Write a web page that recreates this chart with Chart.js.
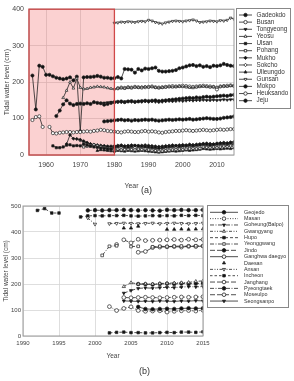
<!DOCTYPE html>
<html>
<head>
<meta charset="utf-8">
<script src="https://cdn.jsdelivr.net/npm/chart.js@4.4.1/dist/chart.umd.min.js"></script>
<style>
  body { margin: 0; background: #fff; width: 294px; height: 381px; position: relative; overflow: hidden;
         font-family: "Liberation Sans", Arial, sans-serif; }
  #chartA { position: absolute; left: 0; top: 0; }
  #chartB { position: absolute; left: 0; top: 195px; }
  .cap { position: absolute; font-size: 9px; color: #333; }
</style>
</head>
<body>
<canvas id="chartA" width="294" height="190"></canvas>
<div class="cap" style="left:141px;top:185px">(a)</div>
<canvas id="chartB" width="294" height="165"></canvas>
<div class="cap" style="left:139px;top:366px">(b)</div>
<script>
const N = null;

// ---- (a) long-term stations, 1955-2015 ----
const yearsA = [1955,1956,1957,1958,1959,
  1960,1961,1962,1963,1964,1965,1966,1967,1968,1969,
  1970,1971,1972,1973,1974,1975,1976,1977,1978,1979,
  1980,1981,1982,1983,1984,1985,1986,1987,1988,1989,
  1990,1991,1992,1993,1994,1995,1996,1997,1998,1999,
  2000,2001,2002,2003,2004,2005,2006,2007,2008,2009,
  2010,2011,2012,2013,2014,2015];
const tickYearsA = [1960, 1970, 1980, 1990, 2000, 2010];
const tickLevelsA = [0, 100, 200, 300, 400];

const gadeokdo = [N,N,N,N,N,
  N,N,N,N,N,N,N,N,N,N,
  N,N,N,N,N,N,N,92,93,94,
  95,96,97,95,96,94,96,95,96,97,
  96,97,95,94,95,96,97,96,97,98,
  97,98,99,97,98,99,100,101,100,99,
  99,100,102,103,104,106];
const busan = [N,96,104,106,77,
  N,77,60,59,61,62,63,63,62,63,
  63,64,65,64,66,67,69,68,66,65,
  64,63,62,64,65,64,63,63,65,66,
  64,65,64,62,61,63,64,65,66,66,
  67,68,67,66,67,68,69,68,67,68,
  69,70,69,70,71,71];
const tongyeong = [N,N,N,N,N,
  N,N,N,N,N,N,N,N,N,N,
  N,N,N,N,N,N,142,143,144,145,
  145,146,145,146,147,146,145,147,146,147,
  146,147,146,145,146,147,148,147,148,149,
  148,149,150,149,150,150,151,150,150,151,
  150,151,152,151,152,152];
const yeosu = [N,N,N,N,N,
  N,N,N,N,N,157,177,200,183,210,
  185,181,182,185,186,188,187,186,184,182,
  181,183,184,183,185,184,186,185,186,187,
  186,187,185,184,185,186,187,186,187,188,
  187,186,185,184,186,187,188,187,186,187,
  186,188,189,188,190,189];
const ulsan = [N,N,N,N,N,
  N,N,25,20,20,22,27,28,25,26,
  25,30,27,24,22,21,19,18,17,16,
  22,24,25,23,22,24,26,25,24,23,
  22,21,20,19,20,22,23,24,25,24,
  25,26,27,26,27,28,30,29,28,29,
  30,31,32,31,33,32];
const pohang = [N,N,N,N,N,
  N,N,N,N,N,N,N,N,N,N,
  N,22,24,26,28,25,22,20,18,16,
  15,16,14,15,16,15,14,16,15,17,
  14,13,12,10,11,12,13,14,15,16,
  15,16,17,18,17,18,22,21,20,22,
  20,22,24,23,25,24];
const mukho = [N,N,N,N,N,
  N,N,N,N,N,N,30,55,45,44,
  42,38,34,30,28,27,26,25,24,24,
  25,26,27,25,26,27,26,25,26,27,
  26,25,24,23,24,25,26,27,26,27,
  28,27,29,28,29,30,31,32,31,30,
  32,33,34,33,35,36];
const sokcho = [N,N,N,N,N,
  N,N,N,N,N,N,N,N,N,N,
  40,36,32,30,28,26,25,24,22,22,
  20,22,21,20,19,21,20,19,21,22,
  20,19,18,17,18,19,20,21,20,21,
  22,23,22,23,24,25,27,26,25,26,
  27,28,27,29,28,29];
const ulleungdo = [N,N,N,N,N,
  N,N,N,N,N,N,N,N,N,N,
  N,N,N,N,N,12,14,13,12,11,
  10,12,11,10,12,11,10,11,12,11,
  10,9,8,7,8,9,10,11,10,11,
  12,13,12,13,14,15,17,16,15,16,
  17,16,17,18,17,19];
const gunsan = [N,N,N,N,N,
  N,N,N,N,N,N,N,N,N,N,
  N,N,N,N,N,N,N,N,N,N,
  362,363,365,364,366,365,364,366,367,366,
  370,368,364,362,360,363,365,367,368,367,
  366,368,369,371,368,364,365,366,368,367,
  366,369,368,370,376,373];
const mokpo = [N,218,125,245,242,
  220,220,216,212,210,208,210,213,205,215,
  65,213,214,214,215,217,215,212,212,210,
  211,214,210,236,235,234,226,236,232,237,
  236,238,240,231,229,229,230,231,233,238,
  240,243,246,247,244,246,242,244,241,245,
  244,246,250,247,245,244];
const heuksando = [N,N,N,N,N,
  N,N,N,N,N,N,N,N,N,N,
  N,N,N,N,N,N,N,N,N,N,
  N,183,185,184,186,185,187,186,185,186,
  187,188,186,185,186,187,188,189,188,189,
  190,189,188,187,188,189,190,189,188,187,
  180,188,189,190,191,190];
const jeju = [N,N,N,N,N,
  N,N,N,107,122,139,150,141,137,140,
  141,140,142,140,145,143,142,138,140,143,
  145,146,147,145,147,148,146,147,148,149,
  148,149,150,148,149,150,151,152,153,154,
  155,156,157,156,158,157,159,160,159,160,
  161,162,163,162,164,165];

// ---- (b) short-term stations, 1990-2015 ----
const yearsB = [1990,1991,1992,1993,1994,1995,1996,1997,1998,1999,
  2000,2001,2002,2003,2004,2005,2006,2007,2008,2009,
  2010,2011,2012,2013,2014,2015];
const tickYearsB = [1990, 1995, 2000, 2005, 2010, 2015];
const tickLevelsB = [0, 100, 200, 300, 400, 500];

const geojedo = [N,N,N,N,N,N,N,N,N,N,
  N,N,N,N,N,N,112,104,103,104,
  105,104,106,107,106,107];
const masan = [N,N,N,N,N,N,N,N,N,N,
  N,N,113,98,106,112,98,95,96,97,
  92,95,97,98,96,99];
const goheung = [N,N,N,N,N,N,N,N,N,N,
  N,N,N,N,165,175,183,185,184,186,
  187,186,188,190,189,190];
const gwangyang = [N,N,N,N,N,N,N,N,N,N,
  N,N,N,N,190,205,200,201,200,202,
  203,204,205,206,210,212];
const hupo = [N,N,N,N,N,N,N,N,N,N,
  N,N,12,14,15,13,13,12,12,13,
  14,13,15,15,14,16];
const yeonggwang = [N,N,N,N,N,N,N,N,N,N,
  N,310,345,347,N,344,345,N,343,345,
  344,345,346,345,347,346];
const jindo = [N,N,N,N,N,N,N,N,N,N,
  N,N,N,N,N,N,200,199,198,200,
  201,200,202,201,202,203];
const ganghwa = [N,N,N,N,N,N,N,N,N,N,
  N,N,N,352,N,N,322,325,340,342,
  343,344,342,345,344,346];
const daesan = [N,N,N,N,N,N,N,N,N,N,
  N,N,N,N,415,415,422,N,N,N,
  410,410,411,410,411,412];
const ansan = [N,N,N,N,N,N,N,N,N,454,
  430,N,432,433,434,433,432,433,434,432,
  433,434,433,432,433,434];
const incheon = [N,N,483,490,473,473,N,N,458,462,
  463,462,463,463,464,462,461,462,463,462,
  463,462,464,463,464,463];
const janghang = [N,N,N,N,N,N,N,N,N,N,
  N,N,N,N,370,358,372,367,368,369,
  370,371,369,372,370,371];
const pyeongtaek = [N,N,N,N,N,N,N,N,N,483,
  484,483,484,484,485,484,483,484,483,482,
  485,484,485,484,484,485];
const moseulpo = [N,N,N,N,N,N,N,N,N,N,
  N,N,N,N,148,147,148,149,148,147,
  148,149,150,149,150,151];
const seongsanpo = [N,N,N,N,N,N,N,N,N,N,
  N,N,N,N,135,134,133,134,133,135,
  134,133,135,134,136,135];

Chart.defaults.font.family = '"Liberation Sans", Arial, sans-serif';
Chart.defaults.color = '#444';

function makeSet(label, years, values, st) {
  const open = !!st.open;
  return {
    label: label,
    data: years.map((yr, i) => ({ x: yr, y: values[i] })),
    borderColor: '#222',
    borderWidth: 0.8,
    borderDash: st.dash || [],
    showLine: st.line !== false,
    spanGaps: false,
    pointStyle: st.shape,
    pointRotation: st.rot || 0,
    pointRadius: st.r || 1.6,
    pointBorderWidth: 0.7,
    pointBorderColor: '#222',
    pointBackgroundColor: open ? '#fff' : '#111',
    fill: false
  };
}

function drawPt(ctx, shape, rot, r, x, y) {
  if (Chart.helpers && Chart.helpers.drawPoint) {
    Chart.helpers.drawPoint(ctx, { pointStyle: shape, rotation: rot, radius: r, borderWidth: 0.7 }, x, y);
  } else {
    ctx.beginPath(); ctx.arc(x, y, r, 0, Math.PI * 2); ctx.fill(); ctx.stroke();
  }
}

function legendPlugin(id, box) {
  return {
    id: id,
    afterDraw(chart) {
      const ctx = chart.ctx;
      ctx.save();
      ctx.fillStyle = '#fff';
      ctx.fillRect(box.x, box.y, box.w, box.h);
      ctx.strokeStyle = '#888';
      ctx.lineWidth = 1;
      ctx.strokeRect(box.x + 0.5, box.y + 0.5, box.w, box.h);
      chart.data.datasets.forEach((ds, i) => {
        const y = box.y0 + i * box.step;
        ctx.lineWidth = 0.8;
        ctx.strokeStyle = '#222';
        if (ds.showLine !== false) {
          ctx.setLineDash(ds.borderDash || []);
          ctx.beginPath();
          ctx.moveTo(box.lx0, y);
          ctx.lineTo(box.lx1, y);
          ctx.stroke();
        }
        ctx.setLineDash([]);
        ctx.fillStyle = ds.pointBackgroundColor;
        drawPt(ctx, ds.pointStyle, ds.pointRotation, box.r, (box.lx0 + box.lx1) / 2, y);
        ctx.fillStyle = '#333';
        ctx.font = box.font + 'px "Liberation Sans", Arial, sans-serif';
        ctx.textBaseline = 'middle';
        ctx.textAlign = 'left';
        ctx.fillText(ds.label, box.tx, y);
      });
      ctx.restore();
    }
  };
}

const frameA = {
  id: 'frameA',
  beforeDatasetsDraw(chart) {
    const { ctx, chartArea: a, scales } = chart;
    const x0 = scales.x.getPixelForValue(1955);
    const x1 = scales.x.getPixelForValue(1980);
    ctx.save();
    ctx.fillStyle = 'rgba(240,90,90,0.28)';
    ctx.fillRect(x0, a.top, x1 - x0, a.bottom - a.top);
    ctx.restore();
  },
  afterDatasetsDraw(chart) {
    const { ctx, chartArea: a, scales } = chart;
    const x0 = scales.x.getPixelForValue(1955);
    const x1 = scales.x.getPixelForValue(1980);
    ctx.save();
    ctx.strokeStyle = '#999';
    ctx.lineWidth = 1;
    ctx.strokeRect(a.left, a.top, a.right - a.left, a.bottom - a.top);
    ctx.strokeStyle = '#d04848';
    ctx.lineWidth = 1.3;
    ctx.strokeRect(x0, a.top, x1 - x0, a.bottom - a.top);
    ctx.restore();
  }
};

const frameB = {
  id: 'frameB',
  afterDatasetsDraw(chart) {
    const { ctx, chartArea: a } = chart;
    ctx.save();
    ctx.strokeStyle = '#999';
    ctx.lineWidth = 1;
    ctx.strokeRect(a.left, a.top, a.right - a.left, a.bottom - a.top);
    ctx.restore();
  }
};

function axisOpts(o) {
  return {
    type: 'linear',
    min: o.min, max: o.max,
    afterBuildTicks: s => { s.ticks = o.ticks.map(v => ({ value: v })); },
    afterFit: s => { if (o.width) s.width = o.width; if (o.height) s.height = o.height; },
    grid: { color: '#d6d6d6', lineWidth: 0.8, drawTicks: false },
    border: { display: false },
    ticks: { font: { size: o.font }, color: '#444', padding: o.pad, maxRotation: 0, autoSkip: false,
             callback: v => String(v) },
    title: { display: true, text: o.title, font: { size: o.tfont }, color: '#444', padding: { top: o.tpad, bottom: 0 } }
  };
}

const setsA = [
  makeSet('Gadeokdo', yearsA, gadeokdo, { shape: 'circle' }),
  makeSet('Busan', yearsA, busan, { shape: 'circle', open: true }),
  makeSet('Tongyeong', yearsA, tongyeong, { shape: 'triangle', rot: 180 }),
  makeSet('Yeosu', yearsA, yeosu, { shape: 'triangle', open: true }),
  makeSet('Ulsan', yearsA, ulsan, { shape: 'rect' }),
  makeSet('Pohang', yearsA, pohang, { shape: 'rect', open: true }),
  makeSet('Mukho', yearsA, mukho, { shape: 'rectRot' }),
  makeSet('Sokcho', yearsA, sokcho, { shape: 'rectRot', open: true }),
  makeSet('Ulleungdo', yearsA, ulleungdo, { shape: 'triangle' }),
  makeSet('Gunsan', yearsA, gunsan, { shape: 'triangle', rot: 180, open: true }),
  makeSet('Mokpo', yearsA, mokpo, { shape: 'circle' }),
  makeSet('Heuksando', yearsA, heuksando, { shape: 'circle', open: true }),
  makeSet('Jeju', yearsA, jeju, { shape: 'circle' })
];

new Chart(document.getElementById('chartA'), {
  type: 'line',
  data: { datasets: setsA },
  options: {
    responsive: false, animation: false, devicePixelRatio: 1,
    layout: { padding: { top: 8, right: 60, left: 0, bottom: 0 } },
    plugins: { legend: { display: false }, tooltip: { enabled: false } },
    scales: {
      x: axisOpts({ min: 1955, max: 2015, ticks: tickYearsA, height: 35, font: 7, pad: 6, title: 'Year', tfont: 7, tpad: 1.8 }),
      y: axisOpts({ min: 0, max: 400, ticks: tickLevelsA, width: 29, font: 7, pad: 5, title: 'Tidal water level (cm)', tfont: 7, tpad: 2.8 })
    }
  },
  plugins: [frameA, legendPlugin('legA', { x: 236, y: 8, w: 54, h: 100, y0: 15, step: 7.14, lx0: 239, lx1: 252, r: 1.7, tx: 256.5, font: 6.3 })]
});

const setsB = [
  makeSet('Geojedo', yearsB, geojedo, { shape: 'circle', r: 1.8 }),
  makeSet('Masan', yearsB, masan, { shape: 'circle', open: true, r: 1.9, dash: [1, 1.5] }),
  makeSet('Goheung(Balpo)', yearsB, goheung, { shape: 'triangle', rot: 180, r: 1.8, dash: [4, 1.5, 1, 1.5] }),
  makeSet('Gwangyang', yearsB, gwangyang, { shape: 'triangle', open: true, r: 1.9, dash: [3, 1.5, 1, 1.5, 1, 1.5] }),
  makeSet('Hupo', yearsB, hupo, { shape: 'rect', r: 1.8, dash: [3, 2] }),
  makeSet('Yeonggwang', yearsB, yeonggwang, { shape: 'rect', open: true, r: 1.9, dash: [4, 1.5, 1, 1.5] }),
  makeSet('Jindo', yearsB, jindo, { shape: 'circle', r: 1.8, dash: [5, 2] }),
  makeSet('Ganghwa daegyo', yearsB, ganghwa, { shape: 'circle', open: true, r: 1.9 }),
  makeSet('Daesan', yearsB, daesan, { shape: 'triangle', r: 1.9, line: false }),
  makeSet('Ansan', yearsB, ansan, { shape: 'triangle', rot: 180, open: true, r: 1.9, dash: [3, 1.5, 1, 1.5, 1, 1.5] }),
  makeSet('Incheon', yearsB, incheon, { shape: 'rect', r: 1.8, dash: [2.5, 2] }),
  makeSet('Janghang', yearsB, janghang, { shape: 'circle', open: true, r: 1.9, dash: [5, 2] }),
  makeSet('Pyeongtaek', yearsB, pyeongtaek, { shape: 'circle', r: 1.8, dash: [4, 1.5, 1, 1.5] }),
  makeSet('Moseulpo', yearsB, moseulpo, { shape: 'circle', open: true, r: 1.9, dash: [5, 2] }),
  makeSet('Seongsanpo', yearsB, seongsanpo, { shape: 'triangle', rot: 180, r: 1.8 })
];

new Chart(document.getElementById('chartB'), {
  type: 'line',
  data: { datasets: setsB },
  options: {
    responsive: false, animation: false, devicePixelRatio: 1,
    layout: { padding: { top: 11, right: 91, left: 0, bottom: 0 } },
    plugins: { legend: { display: false }, tooltip: { enabled: false } },
    scales: {
      x: axisOpts({ min: 1990, max: 2015, ticks: tickYearsB, height: 24, font: 6, pad: 4, title: 'Year', tfont: 6.5, tpad: 2.2 }),
      y: axisOpts({ min: 0, max: 500, ticks: tickLevelsB, width: 23, font: 6, pad: 2, title: 'Tidal water level (cm)', tfont: 6.5, tpad: 2.8 })
    }
  },
  plugins: [frameB, legendPlugin('legB', { x: 207, y: 10, w: 81, h: 102, y0: 17.3, step: 6.34, lx0: 210, lx1: 238, r: 1.8, tx: 244, font: 5.4 })]
});
</script>
</body>
</html>
